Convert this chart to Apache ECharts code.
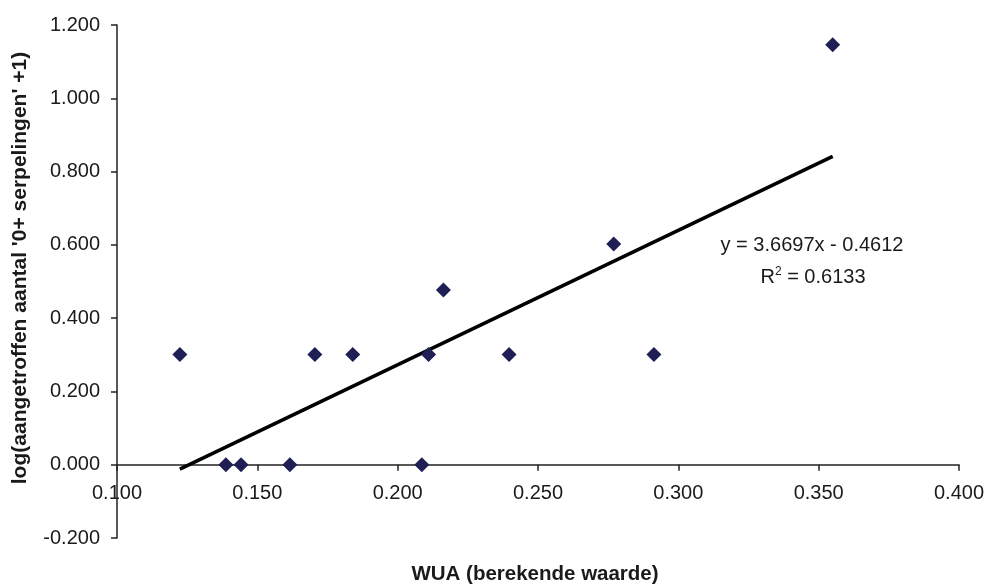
<!DOCTYPE html>
<html>
<head>
<meta charset="utf-8">
<script src="https://cdn.jsdelivr.net/npm/echarts@6/dist/echarts.min.js"></script>
<style>
  html, body { margin: 0; padding: 0; background: #fff; }
  #chart { width: 988px; height: 584px; }
</style>
</head>
<body>
<div id="chart"></div>
<script>
// WUA (x) tegen log(aantal+1) (y)
const wua = [0.1224, 0.1388, 0.1442, 0.1616, 0.1705, 0.1840, 0.2086, 0.2110, 0.2163, 0.2397, 0.2770, 0.2913, 0.3550];
const logAantal = [0.301, 0.000, 0.000, 0.000, 0.301, 0.301, 0.000, 0.301, 0.477, 0.301, 0.602, 0.301, 1.146];

// trendlijn uit Excel
const slope = 3.6697;
const intercept = -0.4612;
const rSquared = 0.6133;

const xTicks = { min: 0.1, max: 0.4, step: 0.05 };
const yTicks = { min: -0.2, max: 1.2, step: 0.2 };

const points = wua.map(function (x, i) { return [x, logAantal[i]]; });
const xMin = Math.min.apply(null, wua);
const xMax = Math.max.apply(null, wua);
const trend = [[xMin, slope * xMin + intercept], [xMax, slope * xMax + intercept]];

const textColor = '#1a1a1a';
const font = 'Arial, "Liberation Sans", sans-serif';

const chart = echarts.init(document.getElementById('chart'), null, { renderer: 'canvas' });

chart.setOption({
    animation: false,
    backgroundColor: '#fff',
    grid: { left: 117, right: 29, top: 25, bottom: 46, outerBoundsMode: 'none', containLabel: false },
    xAxis: {
        type: 'value',
        min: xTicks.min, max: xTicks.max, interval: xTicks.step,
        name: 'WUA (berekende waarde)',
        nameLocation: 'middle',
        nameGap: 26,
        nameTextStyle: { fontFamily: font, fontWeight: 'bold', fontSize: 20.5, color: textColor, padding: [0, 6, 0, 0] },
        axisLine: { onZero: true, lineStyle: { color: '#222', width: 1.5 } },
        axisTick: { show: true, length: 6, lineStyle: { color: '#222', width: 1.5 } },
        // labels blijven aan de onderkant van het grid, daarom negatieve marge
        axisLabel: {
            margin: -55, fontFamily: font, fontSize: 20, color: textColor,
            formatter: function (v) { return v.toFixed(3); }
        },
        splitLine: { show: false }
    },
    yAxis: {
        type: 'value',
        min: yTicks.min, max: yTicks.max, interval: yTicks.step,
        axisLine: { show: true, onZero: false, lineStyle: { color: '#222', width: 1.5 } },
        axisTick: { show: true, length: 6, lineStyle: { color: '#222', width: 1.5 } },
        axisLabel: {
            margin: 17, fontFamily: font, fontSize: 20, color: textColor,
            formatter: function (v) { return v.toFixed(3); }
        },
        splitLine: { show: false }
    },
    series: [
        {
            type: 'line',
            data: trend,
            symbol: 'none',
            lineStyle: { color: '#000', width: 3.5 },
            z: 2
        },
        {
            type: 'scatter',
            data: points,
            symbol: 'diamond',
            symbolSize: [15, 15],
            itemStyle: { color: '#1f1f55', opacity: 1 },
            z: 3
        }
    ],
    graphic: [
        {
            type: 'text',
            x: 20, y: 268,
            rotation: Math.PI / 2,
            style: {
                text: "log(aangetroffen aantal '0+ serpelingen' +1)",
                fontFamily: font, fontWeight: 'bold', fontSize: 21, fill: textColor,
                align: 'center', verticalAlign: 'middle'
            }
        },
        {
            type: 'text',
            x: 812, y: 245,
            style: {
                text: 'y = ' + slope.toFixed(4) + 'x - ' + Math.abs(intercept).toFixed(4),
                fontFamily: font, fontSize: 20, fill: textColor,
                align: 'center', verticalAlign: 'middle'
            }
        },
        {
            type: 'text',
            x: 813, y: 277,
            style: {
                text: 'R{sup|2} = ' + rSquared.toFixed(4),
                fontFamily: font, fontSize: 20, fill: textColor,
                align: 'center', verticalAlign: 'middle',
                rich: { sup: { fontSize: 12, verticalAlign: 'top', padding: [0, 0, 10, 0], fontFamily: font, fill: textColor } }
            }
        }
    ]
});
</script>
</body>
</html>
